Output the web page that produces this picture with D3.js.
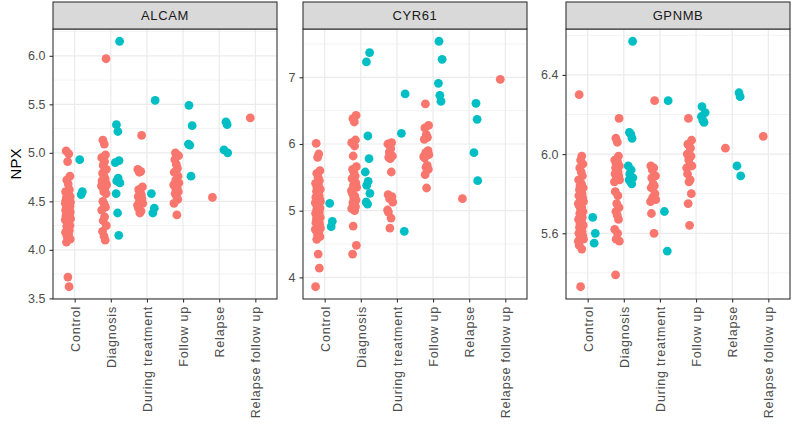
<!DOCTYPE html>
<html>

<head>
    <script src="https://cdn.jsdelivr.net/npm/d3@7"></script>
    <style>
        body { margin: 0; background: #fff; }
        text { font-family: "Liberation Sans", Arial, sans-serif; }
    </style>
</head>

<body>
    <script>
        var categories = ["Control", "Diagnosis", "During treatment", "Follow up", "Relapse", "Relapse follow up"];
        var proteins = ["ALCAM", "CYR61", "GPNMB"];

        // one inner list per category, red (first group) and teal (second group)
        var alcamRed = [
            [5.02, 4.99, 4.91, 4.76, 4.72, 4.68, 4.62, 4.60, 4.58, 4.57, 4.55, 4.54, 4.53, 4.52, 4.51, 4.50, 4.50, 4.49, 4.48, 4.47,
             4.46, 4.46, 4.45, 4.44, 4.43, 4.42, 4.41, 4.40, 4.40, 4.39, 4.38, 4.37, 4.36, 4.35, 4.34, 4.33, 4.32, 4.31, 4.30, 4.28,
             4.27, 4.25, 4.24, 4.22, 4.20, 4.18, 4.16, 4.14, 4.11, 4.08, 3.72, 3.62],
            [5.97, 5.13, 5.09, 4.98, 4.95, 4.91, 4.87, 4.83, 4.79, 4.76, 4.73, 4.71, 4.69, 4.68, 4.67, 4.66, 4.65, 4.63, 4.60, 4.58,
             4.50, 4.47, 4.44, 4.41, 4.34, 4.30, 4.25, 4.19, 4.14, 4.10],
            [5.18, 4.83, 4.81, 4.80, 4.65, 4.62, 4.59, 4.57, 4.55, 4.53, 4.51, 4.48, 4.46, 4.43, 4.40, 4.38],
            [5.00, 4.97, 4.93, 4.88, 4.84, 4.80, 4.76, 4.72, 4.69, 4.67, 4.66, 4.64, 4.62, 4.60, 4.58, 4.55, 4.52, 4.48, 4.36],
            [4.54],
            [5.36]
        ];
        var alcamTeal = [
            [4.93, 4.60, 4.57],
            [6.15, 5.29, 5.22, 4.92, 4.90, 4.74, 4.71, 4.69, 4.58, 4.38, 4.15],
            [5.54, 4.58, 4.43, 4.38],
            [5.49, 5.28, 5.09, 5.08, 4.76],
            [5.32, 5.29, 5.03, 5.00],
            []
        ];
        var cyr61Red = [
            [6.01, 5.85, 5.80, 5.60, 5.56, 5.50, 5.45, 5.41, 5.38, 5.35, 5.32, 5.29, 5.26, 5.23, 5.20, 5.18, 5.16, 5.14, 5.12, 5.10,
             5.08, 5.06, 5.04, 5.02, 5.00, 4.98, 4.96, 4.94, 4.92, 4.90, 4.88, 4.86, 4.84, 4.82, 4.80, 4.77, 4.74, 4.72, 4.70, 4.67,
             4.64, 4.61, 4.57, 4.35, 4.14, 3.86],
            [6.43, 6.38, 6.33, 6.06, 6.02, 5.97, 5.82, 5.66, 5.62, 5.57, 5.52, 5.48, 5.42, 5.38, 5.35, 5.30, 5.26, 5.22, 5.19, 5.16,
             5.12, 5.09, 5.06, 5.03, 5.00, 4.77, 4.48, 4.35],
            [6.02, 6.00, 5.93, 5.88, 5.82, 5.80, 5.78, 5.58, 5.24, 5.21, 5.18, 5.13, 5.01, 4.98, 4.89, 4.74],
            [6.60, 6.28, 6.24, 6.14, 6.10, 6.07, 5.90, 5.87, 5.84, 5.81, 5.79, 5.68, 5.65, 5.62, 5.54, 5.34],
            [5.18],
            [6.97]
        ];
        var cyr61Teal = [
            [5.11, 4.84, 4.76],
            [7.37, 7.23, 6.12, 5.78, 5.58, 5.44, 5.38, 5.26, 5.13, 5.10],
            [6.75, 6.16, 4.69],
            [7.54, 7.27, 6.91, 6.73, 6.64],
            [6.61, 6.37, 5.87, 5.45],
            []
        ];
        var gpnmbRed = [
            [6.30, 5.99, 5.97, 5.95, 5.93, 5.91, 5.89, 5.87, 5.85, 5.84, 5.83, 5.82, 5.81, 5.80, 5.79, 5.78, 5.77, 5.76, 5.75, 5.74,
             5.73, 5.72, 5.71, 5.70, 5.69, 5.68, 5.67, 5.66, 5.65, 5.64, 5.63, 5.62, 5.61, 5.60, 5.59, 5.58, 5.57, 5.56, 5.54, 5.52,
             5.33],
            [6.18, 6.08, 6.06, 5.99, 5.97, 5.96, 5.95, 5.94, 5.93, 5.92, 5.91, 5.90, 5.89, 5.88, 5.87, 5.86, 5.81, 5.79, 5.75, 5.73,
             5.71, 5.69, 5.67, 5.62, 5.60, 5.57, 5.56, 5.39],
            [6.27, 5.94, 5.93, 5.92, 5.89, 5.88, 5.85, 5.84, 5.83, 5.80, 5.78, 5.77, 5.76, 5.70, 5.60],
            [6.18, 6.07, 6.05, 6.04, 6.03, 6.00, 5.99, 5.97, 5.94, 5.93, 5.90, 5.87, 5.86, 5.80, 5.75, 5.64],
            [6.03],
            [6.09]
        ];
        var gpnmbTeal = [
            [5.68, 5.60, 5.55],
            [6.57, 6.11, 6.10, 6.08, 5.94, 5.92, 5.90, 5.88, 5.87, 5.86, 5.85],
            [6.27, 5.71, 5.51],
            [6.24, 6.21, 6.19, 6.17, 6.16],
            [6.31, 6.29, 5.94, 5.89],
            []
        ];

        var alcamTicks = [3.5, 4.0, 4.5, 5.0, 5.5, 6.0];
        var cyr61Ticks = [4, 5, 6, 7];
        var gpnmbTicks = [5.6, 6.0, 6.4];

        var panels = [
            { name: proteins[0], red: alcamRed, teal: alcamTeal, ticks: alcamTicks, fmt: ".1f", x0: 53 },
            { name: proteins[1], red: cyr61Red, teal: cyr61Teal, ticks: cyr61Ticks, fmt: "d", x0: 303 },
            { name: proteins[2], red: gpnmbRed, teal: gpnmbTeal, ticks: gpnmbTicks, fmt: ".1f", x0: 566 }
        ];

        // fixed jitter pattern (fraction of jitter width)
        var jitterPattern = [-0.6, 0.3, -0.1, 0.7, -0.4, 0.1, 0.5, -0.8, 0.2, -0.3, 0.8, -0.5, 0.0, 0.4, -0.7, 0.6, -0.2, 0.9, -0.9];

        var W = 794, H = 426;
        var panelW = 224, stripTop = 2, plotTop = 29, plotBottom = 299;
        var red = "#F8766D", teal = "#00BFC4";

        var svg = d3.select('body')
            .append('svg')
            .attr('width', W)
            .attr('height', H);

        svg.append("text")
            .attr("transform", "translate(21," + ((plotTop + plotBottom) / 2) + ") rotate(-90)")
            .attr("text-anchor", "middle")
            .style("font-size", "15px")
            .style("fill", "#000")
            .text("NPX");

        panels.forEach(function(p) {
            var all = d3.merge(p.red.concat(p.teal));
            var ext = d3.extent(all);
            var pad = (ext[1] - ext[0]) * 0.05;

            var x = d3.scalePoint()
                .domain(categories)
                .range([p.x0, p.x0 + panelW])
                .padding(0.6);
            var step = x.step();

            var y = d3.scaleLinear()
                .domain([ext[0] - pad, ext[1] + pad])
                .range([plotBottom, plotTop]);

            var g = svg.append("g");

            // minor grid
            var d = p.ticks[1] - p.ticks[0];
            var minors = [];
            for (var i = 0; i <= p.ticks.length; i++) {
                var m = p.ticks[0] - d / 2 + i * d;
                if (y(m) > plotTop && y(m) < plotBottom) minors.push(m);
            }
            g.selectAll(".minor").data(minors).enter().append("line")
                .attr("x1", p.x0).attr("x2", p.x0 + panelW)
                .attr("y1", function(v) { return y(v); })
                .attr("y2", function(v) { return y(v); })
                .style("stroke", "#EBEBEB").style("stroke-width", 0.6);

            // major grid
            g.selectAll(".majorY").data(p.ticks).enter().append("line")
                .attr("x1", p.x0).attr("x2", p.x0 + panelW)
                .attr("y1", function(v) { return y(v); })
                .attr("y2", function(v) { return y(v); })
                .style("stroke", "#EBEBEB").style("stroke-width", 1.2);
            g.selectAll(".majorX").data(categories).enter().append("line")
                .attr("y1", plotTop).attr("y2", plotBottom)
                .attr("x1", function(c) { return x(c); })
                .attr("x2", function(c) { return x(c); })
                .style("stroke", "#EBEBEB").style("stroke-width", 1.2);

            // points
            [[p.red, -1, red], [p.teal, 1, teal]].forEach(function(grp) {
                var pts = [];
                grp[0].forEach(function(vals, ci) {
                    vals.forEach(function(v, k) {
                        pts.push({ cat: categories[ci], v: v, j: jitterPattern[(k + ci * 3) % jitterPattern.length] });
                    });
                });
                g.selectAll(null).data(pts).enter().append("circle")
                    .attr("cx", function(q) { return x(q.cat) + grp[1] * 0.1875 * step + q.j * 0.08 * step; })
                    .attr("cy", function(q) { return y(q.v); })
                    .attr("r", 4.4)
                    .style("fill", grp[2]);
            });

            // panel border
            g.append("rect")
                .attr("x", p.x0).attr("y", plotTop)
                .attr("width", panelW).attr("height", plotBottom - plotTop)
                .style("fill", "none").style("stroke", "#333333").style("stroke-width", 1.1);

            // strip
            g.append("rect")
                .attr("x", p.x0).attr("y", stripTop)
                .attr("width", panelW).attr("height", plotTop - stripTop)
                .style("fill", "#D9D9D9").style("stroke", "#333333").style("stroke-width", 1.1);
            g.append("text")
                .attr("x", p.x0 + panelW / 2).attr("y", (stripTop + plotTop) / 2 + 4.5)
                .attr("text-anchor", "middle")
                .style("font-size", "13px").style("letter-spacing", "0.6px").style("fill", "#1A1A1A")
                .text(p.name);

            // axes
            var yAxis = d3.axisLeft(y).tickValues(p.ticks).tickSize(3.5).tickPadding(4)
                .tickFormat(d3.format(p.fmt));
            var ya = g.append("g").attr("transform", "translate(" + p.x0 + ",0)").call(yAxis);
            ya.select(".domain").remove();
            ya.selectAll("line").style("stroke", "#333333").style("stroke-width", 1.1);
            ya.selectAll("text").style("font-size", "12.5px").style("fill", "#4D4D4D");

            var xAxis = d3.axisBottom(x).tickSize(3.5).tickPadding(4);
            var xa = g.append("g").attr("transform", "translate(0," + plotBottom + ")").call(xAxis);
            xa.select(".domain").remove();
            xa.selectAll("line").style("stroke", "#333333").style("stroke-width", 1.1);
            xa.selectAll("text")
                .attr("transform", "rotate(-90)")
                .attr("x", -7).attr("y", 0).attr("dy", "0.35em")
                .attr("text-anchor", "end")
                .style("font-size", "12.5px").style("letter-spacing", "0.8px").style("fill", "#4D4D4D");
        });
    </script>
</body>

</html>
